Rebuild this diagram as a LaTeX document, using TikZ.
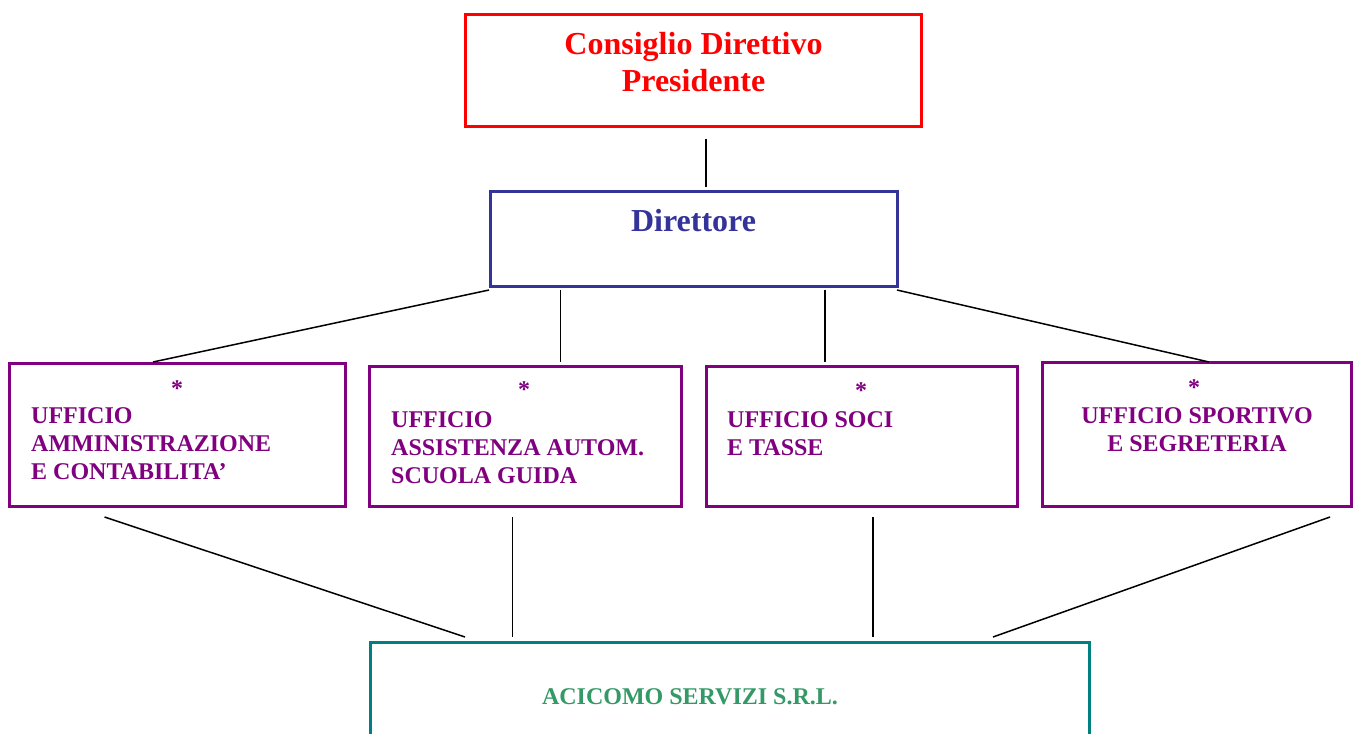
\documentclass[tikz,border=0pt]{standalone}
\usepackage{fontspec}
\setmainfont{Liberation Serif}
\definecolor{cdred}{HTML}{FF0000}
\definecolor{dirblue}{HTML}{333399}
\definecolor{uffpurple}{HTML}{800080}
\definecolor{srlteal}{HTML}{008080}
\definecolor{srlgreen}{HTML}{339966}
\begin{document}
\begin{tikzpicture}[x=1pt,y=-1pt,
  boxnode/.style={draw, line width=3pt, inner sep=0pt},
  bigtxt/.style={inner sep=0pt, anchor=base, font=\bfseries\fontsize{32}{37}\selectfont},
  smalltxt/.style={inner sep=0pt, anchor=base, text=uffpurple, font=\bfseries\fontsize{24}{28}\selectfont},
  star/.style={inner sep=0pt, anchor=base, text=uffpurple, font=\bfseries\fontsize{24}{28}\selectfont},
  conn/.style={draw=black, line width=1.5pt}]
\useasboundingbox (0,0) rectangle (1353,734);
\clip (0,0) rectangle (1353,734);
% boxes
\node[boxnode, draw=cdred, minimum width=456, minimum height=112] (cd) at (693,70) {};
\node[boxnode, draw=dirblue, minimum width=407, minimum height=95] (dir) at (693.5,238.5) {};
\node[boxnode, draw=uffpurple, minimum width=336, minimum height=143] (u1) at (177,434.5) {};
\node[boxnode, draw=uffpurple, minimum width=312, minimum height=140] (u2) at (525,436) {};
\node[boxnode, draw=uffpurple, minimum width=311, minimum height=140] (u3) at (861.5,436) {};
\node[boxnode, draw=uffpurple, minimum width=309, minimum height=144] (u4) at (1196.5,434) {};
\node[boxnode, draw=srlteal, minimum width=719, minimum height=140] (srl) at (729.5,712) {};
% texts
\node[bigtxt, text=cdred] (cdtxt) at (693.5,54) {\begin{tabular}[t]{@{}c@{}}Consiglio Direttivo\\Presidente\end{tabular}};
\node[bigtxt, text=dirblue] (dirtxt) at (693.5,231) {Direttore};
\node[star] (s1) at (177,396) {*};
\node[star] (s2) at (524,397) {*};
\node[star] (s3) at (861,398) {*};
\node[star] (s4) at (1194,395) {*};
\node[smalltxt, anchor=base west] (t1) at (31,423) {\begin{tabular}[t]{@{}l@{}}UFFICIO\\AMMINISTRAZIONE\\E CONTABILITA’\end{tabular}};
\node[smalltxt, anchor=base west] (t2) at (391,427) {\begin{tabular}[t]{@{}l@{}}UFFICIO\\ASSISTENZA AUTOM.\\SCUOLA GUIDA\end{tabular}};
\node[smalltxt, anchor=base west] (t3) at (727,427) {\begin{tabular}[t]{@{}l@{}}UFFICIO SOCI\\E TASSE\end{tabular}};
\node[smalltxt] (t4) at (1197,423) {\begin{tabular}[t]{@{}c@{}}UFFICIO SPORTIVO\\E SEGRETERIA\end{tabular}};
\node[inner sep=0pt, anchor=base, text=srlgreen, font=\bfseries\fontsize{24}{28}\selectfont] (srltxt) at (690,704) {ACICOMO SERVIZI S.R.L.};
% connector end points
\coordinate (cdB) at (706,139);
\coordinate (dirT) at (706,187);
\coordinate (dA) at (489,290);
\coordinate (dB) at (560.5,290);
\coordinate (dC) at (825,290);
\coordinate (dD) at (897,290);
\coordinate (u1T) at (153,362);
\coordinate (u2T) at (560.5,362);
\coordinate (u3T) at (825,362);
\coordinate (u4T) at (1209,362);
\coordinate (u1B) at (104.5,517);
\coordinate (u2B) at (512.5,517);
\coordinate (u3B) at (873,517);
\coordinate (u4B) at (1330,517);
\coordinate (sA) at (465,637);
\coordinate (sB) at (512.5,637);
\coordinate (sC) at (873,637);
\coordinate (sD) at (993,637);
% connectors
\draw[conn] (cdB) -- (dirT);
\draw[conn] (dA) -- (u1T);
\draw[conn] (dB) -- (u2T);
\draw[conn] (dC) -- (u3T);
\draw[conn] (dD) -- (u4T);
\draw[conn] (u1B) -- (sA);
\draw[conn] (u2B) -- (sB);
\draw[conn] (u3B) -- (sC);
\draw[conn] (u4B) -- (sD);
\end{tikzpicture}
\end{document}
